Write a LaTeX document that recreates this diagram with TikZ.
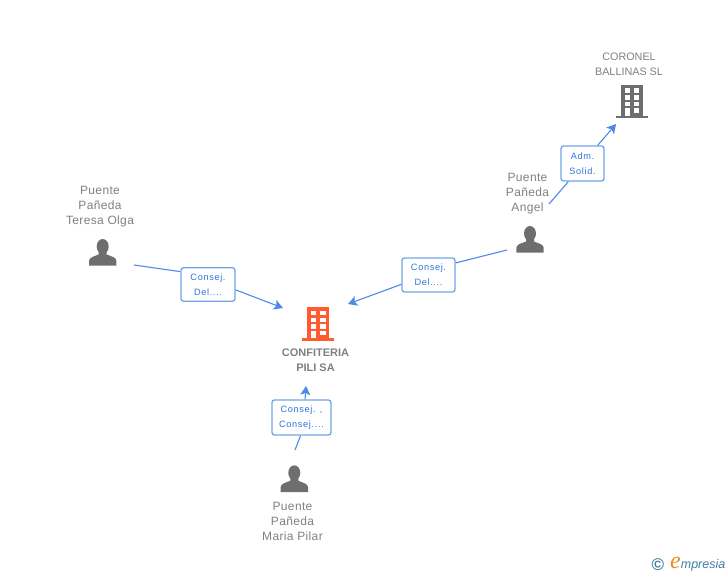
\documentclass[tikz,border=0pt]{standalone}
\usepackage{fontspec}
\usepackage{xcolor}
\usepackage{tikz}
\usetikzlibrary{arrows.meta}
\setmainfont{Liberation Sans}
\newfontfamily\lblfont[LetterSpace=3]{Liberation Sans}
\newfontfamily\smallfont{Liberation Sans}
\newfontfamily\relfont[LetterSpace=7]{Liberation Sans}
\newfontfamily\logofont{Liberation Serif}
\definecolor{lblgray}{HTML}{808080}
\definecolor{icongray}{HTML}{6E6E6E}
\definecolor{mainorange}{HTML}{FF5A30}
\definecolor{relblue}{HTML}{2F74E0}
\definecolor{relborder}{HTML}{70A5EC}
\definecolor{logoblue}{HTML}{3F7F9F}
\definecolor{logoorange}{HTML}{F08A1D}

% icons, origin at top left of the body / centre of the head
\newcommand{\buildingicon}[3]{
\begin{scope}[shift={(#1,#2)}]
\fill [#3] (0,0) rectangle (22,31);
\fill [#3] (-5,31) rectangle (26.7,33.4);
\foreach \wy/\wh in {3.4/7.7, 10.4/15, 17/21.4}{
  \fill [white] (3.7,\wy) rectangle (8.7,\wh);
  \fill [white] (13,\wy) rectangle (18.4,\wh);
}
\fill [white] (3.7,23.4) rectangle (8.7,31);
\fill [white] (13,23.4) rectangle (18.4,27.7);
\end{scope}
}
\newcommand{\personicon}[2]{
\begin{scope}[shift={(#1,#2)}]
\fill [icongray] (0,0.5) ellipse (6 and 7.5);
\fill [icongray] (-13.7,19.7) -- (-13.7,15) .. controls (-13.7,11.5) and (-9,10.5) .. (-4,8.5)
  -- (-4,4) -- (4,4) -- (4,8.5) .. controls (9,10.5) and (13.7,11.5) .. (13.7,15) -- (13.7,19.7) -- cycle;
\end{scope}
}

\begin{document}
\begin{tikzpicture}[x=1pt, y=-1pt]
\tikzstyle{lbl}    = [text=lblgray, align=center, inner sep=0pt, font=\lblfont\fontsize{12}{15}\selectfont]
\tikzstyle{smalllbl} = [lbl, font=\smallfont\fontsize{10.8}{15}\selectfont]
\tikzstyle{mainlbl} = [lbl, font=\bfseries\fontsize{11}{15}\selectfont]
\tikzstyle{relbox} = [draw=relborder, line width=1.3pt, fill=white, rounded corners=2.5pt, inner sep=0pt,
  text=relblue, align=center, font=\relfont\fontsize{9.2}{15}\selectfont]
\tikzstyle{rel}    = [draw=relblue!85!white, line width=1.1pt]
\tikzstyle{relarrow} = [rel, -{Stealth[length=9pt, width=10pt, inset=2pt]}]
\useasboundingbox (0,0) rectangle (728,575);

\buildingicon{307.3}{307.3}{mainorange}
\buildingicon{621}{85}{icongray}
\personicon{102.7}{246}
\personicon{530}{233}
\personicon{294.3}{472.3}

\node [mainlbl](main) at (315.5,360) {CONFITERIA\\PILI SA};
\node [smalllbl](coronel) at (629,64) {CORONEL\\BALLINAS SL};
\node [lbl](teresa) at (100,207) {Puente\\Pa\~{n}eda\\Teresa Olga};
\node [lbl](angel) at (527.5,194) {Puente\\Pa\~{n}eda\\Angel};
\node [lbl](maria) at (292.5,521) {Puente\\Pa\~{n}eda\\Maria Pilar};

\node [relbox, minimum width=54pt, minimum height=33.5pt](r1) at (208,284.5) {Consej.\\Del....};
\node [relbox, minimum width=53pt, minimum height=34pt](r2) at (428.5,275) {Consej.\\Del....};
\node [relbox, minimum width=43pt, minimum height=35pt](r3) at (582.5,163.5) {Adm.\\Solid.};
\node [relbox, minimum width=59pt, minimum height=35pt](r4) at (301.5,417.5) {Consej. ,\\Consej....};

\coordinate (t1) at (134,265);
\coordinate (t2) at (283,308);
\coordinate (a1) at (507,250);
\coordinate (a2) at (348,304);
\coordinate (b1) at (549,204);
\coordinate (b2) at (616,124);
\coordinate (m1) at (295,450);
\coordinate (m2) at (306,386);

 %%Edges
\draw [rel] (t1)--(r1.155);
\draw [relarrow] (r1.-11.5)--(t2);
\draw [rel] (a1)--(r2.24);
\draw [relarrow] (r2.199)--(a2);
\draw [rel] (b1)--(r3.232);
\draw [relarrow] (r3.50)--(b2);
\draw [rel] (m1)--(r4.267);
\draw [relarrow] (r4.79)--(m2);

\node [inner sep=0pt, text=logoblue, font=\bfseries\fontsize{17}{19}\selectfont](copyr) at (658,564.5) {\textcopyright};
\node [inner sep=0pt, anchor=base west, text=logoblue, font=\itshape\fontsize{12.5}{15}\selectfont](logo) at (670,568)
  {\textcolor{logoorange}{\logofont\fontsize{24}{24}\selectfont e}mpresia};
\end{tikzpicture}
\end{document}
